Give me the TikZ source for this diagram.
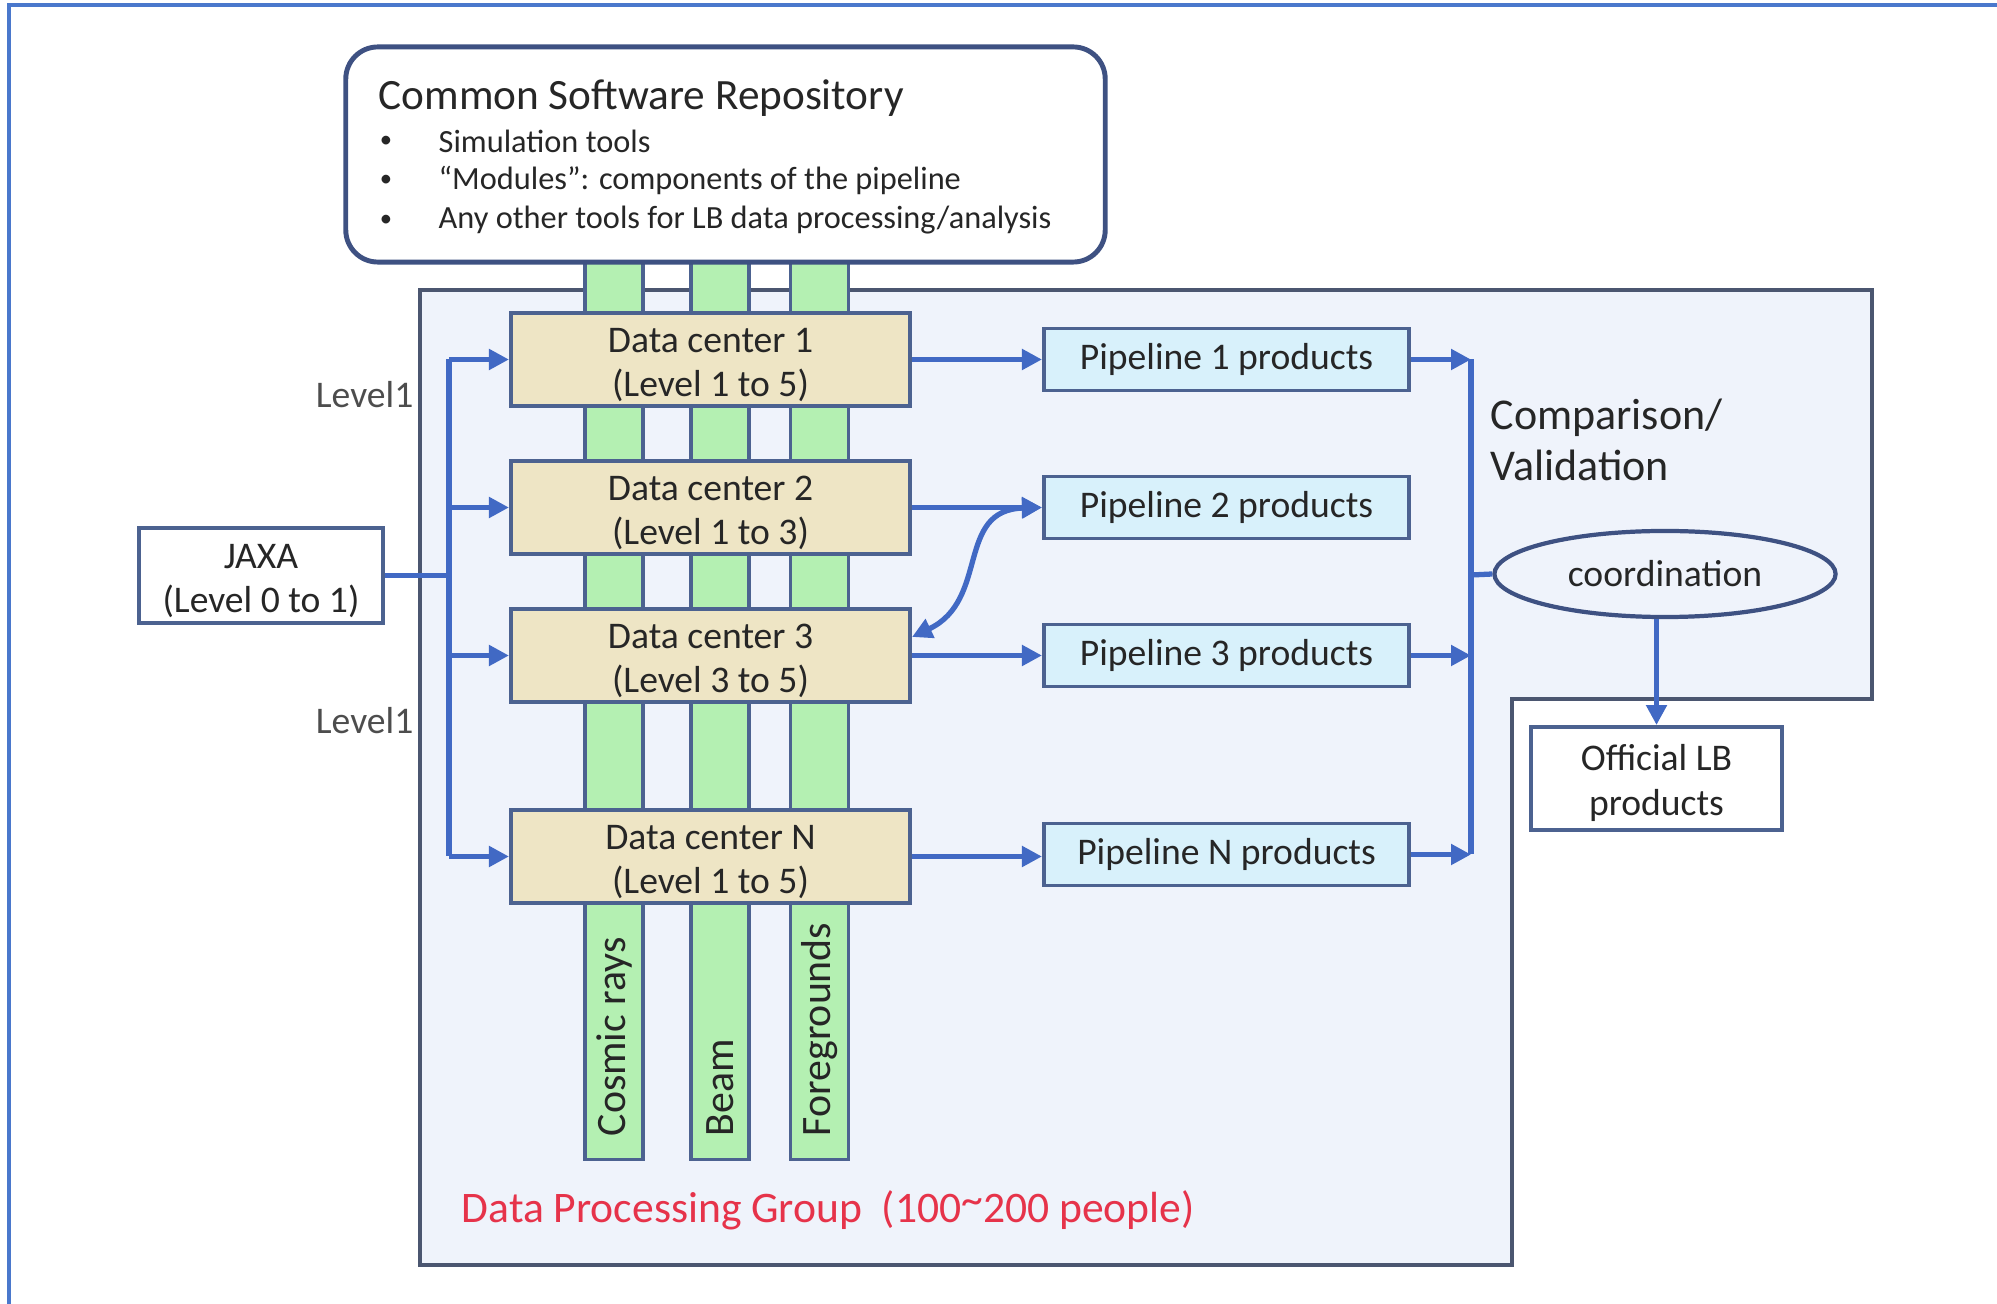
\documentclass[tikz,border=0pt]{standalone}
\usepackage{fontspec}
\setmainfont{Carlito}
\usetikzlibrary{arrows.meta,shapes.geometric}

\definecolor{frameblue}{HTML}{4A78CC}
\definecolor{linkblue}{HTML}{4169C4}
\definecolor{edge}{HTML}{4C6290}
\definecolor{repoedge}{HTML}{3E5182}
\definecolor{regionfill}{HTML}{EFF3FB}
\definecolor{regionedge}{HTML}{4B5670}
\definecolor{tanfill}{HTML}{EEE5C5}
\definecolor{cyanfill}{HTML}{D8F1FB}
\definecolor{greenfill}{HTML}{B4F0B2}
\definecolor{ink}{HTML}{262626}
\definecolor{softink}{HTML}{4D4D4D}
\definecolor{groupred}{HTML}{E6334A}

% extra room above the first line of a two-line box label
\newcommand\firstline{\rule{0pt}{0.35cm}}

\begin{document}
\begin{tikzpicture}[x=0.01cm,y=-0.01cm,
  every node/.style={text=ink, inner sep=0pt},
  body/.style={font=\fontsize{10.7}{12.6}\selectfont},
  boxed/.style={draw=edge, line width=1.1pt, align=center, body},
  dcbox/.style={boxed, fill=tanfill, minimum width=3.99cm, minimum height=0.93cm},
  pipebox/.style={boxed, fill=cyanfill, minimum width=3.65cm, minimum height=0.62cm},
  column/.style={draw=edge, line width=0.9pt, fill=greenfill, minimum width=0.58cm, minimum height=8.97cm},
  collabel/.style={rotate=90, anchor=west, font=\fontsize{11.9}{13}\selectfont},
  link/.style={draw=linkblue, line width=1.5pt},
  tiphead/.style={-{Triangle[length=0.2cm,width=0.2cm]}},
  arr/.style={link, tiphead},
  bulletdot/.style={font=\fontsize{7}{8}\selectfont},
  bullettext/.style={anchor=west, font=\fontsize{9.2}{11}\selectfont},
]
\useasboundingbox (0,0) rectangle (1997,1304);

% page frame
\draw[frameblue, line width=0.9pt] (9,1304) -- (9,5) -- (1997,5);

% data processing group region
\draw[regionedge, line width=1.1pt, fill=regionfill]
  (420,290) -- (1872,290) -- (1872,699) -- (1512,699) -- (1512,1265) -- (420,1265) -- cycle;

% working-group columns
\node[column] (col1) at (614,710.5) {};
\node[column] (col2) at (720,710.5) {};
\node[column] (col3) at (819.5,710.5) {};
\node[collabel] (lab1) at (614,1137) {Cosmic rays};
\node[collabel] (lab2) at (720,1137) {Beam};
\node[collabel] (lab3) at (819.5,1137) {Foregrounds};

% common software repository
\node[draw=repoedge, line width=1.4pt, rounded corners=0.32cm, fill=white,
      minimum width=7.59cm, minimum height=2.15cm] (repo) at (725.5,154.5) {};
\node[anchor=west, font=\fontsize{12.3}{14}\selectfont] (repotitle) at (378,98) {Common Software Repository};
\node[bulletdot] (d1) at (386,142) {\textbullet};
\node[bulletdot] (d2) at (386,181) {\textbullet};
\node[bulletdot] (d3) at (386,221) {\textbullet};
\node[bullettext] (b1) at (438,141) {Simulation tools};
\node[bullettext] (b2) at (438,180) {“Modules”: components of the pipeline};
\node[bullettext] (b3) at (438,220) {Any other tools for LB data processing/analysis};

% data centers
\node[dcbox] (dc1) at (710.5,359.5) {\firstline Data center 1\\(Level 1 to 5)};
\node[dcbox] (dc2) at (710.5,507.5) {\firstline Data center 2\\(Level 1 to 3)};
\node[dcbox] (dc3) at (710.5,655.5) {\firstline Data center 3\\(Level 3 to 5)};
\node[dcbox] (dcN) at (710.5,856.5) {\firstline Data center N\\(Level 1 to 5)};

% pipeline products
\node[pipebox] (p1) at (1226.5,359.5) {Pipeline 1 products};
\node[pipebox] (p2) at (1226.5,507.5) {Pipeline 2 products};
\node[pipebox] (p3) at (1226.5,655.5) {Pipeline 3 products};
\node[pipebox] (pN) at (1226.5,854.5) {Pipeline N products};

% JAXA and official products
\node[boxed, fill=white, minimum width=2.44cm, minimum height=0.95cm] (jaxa) at (261,575.5) {\firstline JAXA\\(Level 0 to 1)};
\node[boxed, fill=white, minimum width=2.51cm, minimum height=1.03cm] (off) at (1656.5,778.5) {\firstline Official LB\\products};
\node[ellipse, draw=repoedge, line width=1.2pt, minimum width=3.41cm, minimum height=0.86cm, body] (coord) at (1665,574) {coordination};

% free labels
\node[anchor=east, body, text=softink] (lv1) at (414,395) {Level1};
\node[anchor=east, body, text=softink] (lv2) at (414,721) {Level1};
\node[anchor=west, align=left, font=\fontsize{12.5}{14.5}\selectfont] (cv) at (1490,440) {Comparison/\\Validation};
\node[anchor=west, text=groupred, font=\fontsize{12.4}{14}\selectfont] (grp) at (461,1210)
  {Data Processing Group\ \ (100\raisebox{0.35ex}{\textasciitilde}200 people)};

% distribution from JAXA
\coordinate (lb) at (449,575.5);
\draw[link] (jaxa.east) -- (lb);
\draw[link] (dc1.west -| lb) -- (dcN.west -| lb);
\draw[arr] (dc1.west -| lb) -- (dc1.west);
\draw[arr] (dc2.west -| lb) -- (dc2.west);
\draw[arr] (dc3.west -| lb) -- (dc3.west);
\draw[arr] (dcN.west -| lb) -- (dcN.west);

% data centers to pipeline products
\draw[arr] (dc1.east) -- (dc1.east -| p1.west);
\draw[arr] (dc2.east) -- (dc2.east -| p2.west);
\draw[arr] (dc3.east) -- (dc3.east -| p3.west);
\draw[arr] (dcN.east) -- (dcN.east -| pN.west);
\draw[link, {Triangle[length=0.2cm,width=0.2cm]}-{Triangle[length=0.2cm,width=0.2cm]}]
  ([yshift=0.185cm]dc3.east) .. controls (990,600) and (955,510) .. (p2.west);

% comparison / validation
\coordinate (rb) at (1471,575);
\draw[link] (p1.east -| rb) -- (pN.east -| rb);
\draw[arr] (p1.east) -- (p1.east -| rb);
\draw[arr] (p3.east) -- (p3.east -| rb);
\draw[arr] (pN.east) -- (pN.east -| rb);
\draw[link] (rb) -- (coord.west);
\draw[arr] (off.north |- coord.south) -- (off.north);
\end{tikzpicture}
\end{document}
